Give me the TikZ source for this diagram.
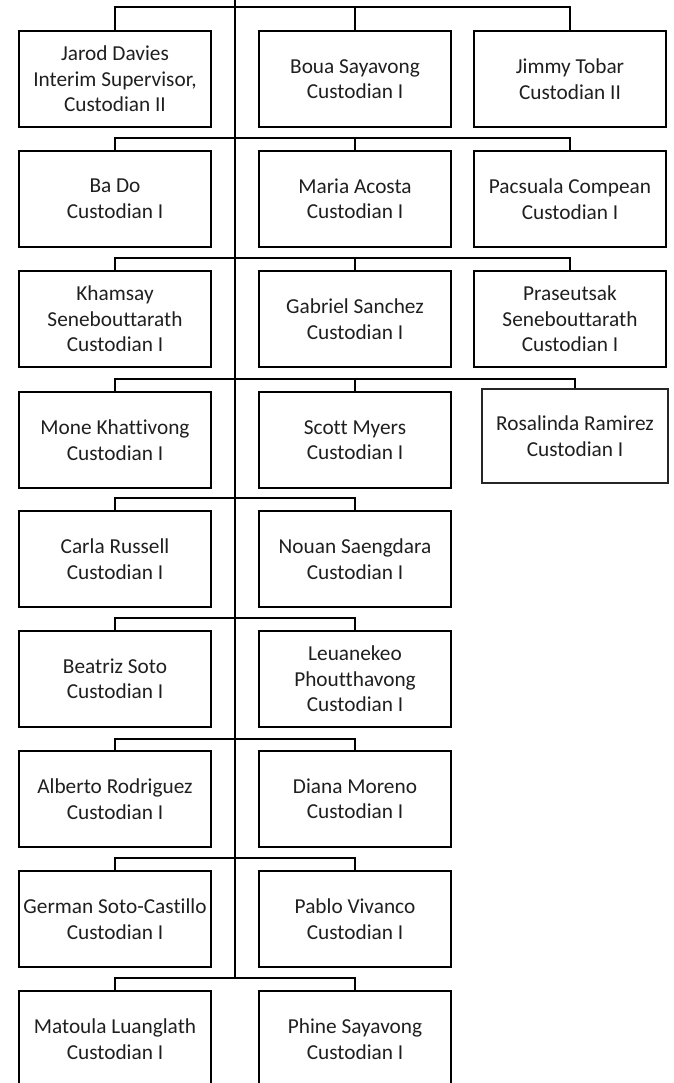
\documentclass[tikz,border=0pt]{standalone}
\usepackage{fontspec}
\setmainfont{Carlito}[Ligatures={NoCommon}]
\begin{document}
\begin{tikzpicture}[x=1pt,y=1pt,
  box/.style={draw, line width=2pt, minimum width=192pt, minimum height=96pt, align=center, inner sep=0pt, text=black!88, font=\fontsize{21.3}{25.5}\selectfont},
  thinbox/.style={box, line width=1.3pt, draw=black!85, minimum width=186pt, minimum height=94pt},
  conn/.style={line width=2pt}]
\useasboundingbox (0,0) rectangle (673,1083);
% row 1
\node[box] (L1) at (115,1004) {Jarod Davies\\Interim Supervisor,\\Custodian II};
\node[box] (M1) at (355,1004) {Boua Sayavong\\Custodian I};
\node[box] (R1) at (570,1004) {Jimmy Tobar\\Custodian II};
% row 2
\node[box] (L2) at (115,884) {Ba Do\\Custodian I};
\node[box] (M2) at (355,884) {Maria Acosta\\Custodian I};
\node[box] (R2) at (570,884) {Pacsuala Compean\\Custodian I};
% row 3
\node[box] (L3) at (115,764) {Khamsay\\Senebouttarath\\Custodian I};
\node[box] (M3) at (355,764) {Gabriel Sanchez\\Custodian I};
\node[box] (R3) at (570,764) {Praseutsak\\Senebouttarath\\Custodian I};
% row 4
\node[box] (L4) at (115,643) {Mone Khattivong\\Custodian I};
\node[box] (M4) at (355,643) {Scott Myers\\Custodian I};
\node[thinbox] (R4) at (575,647) {Rosalinda Ramirez\\Custodian I};
% row 5
\node[box] (L5) at (115,524) {Carla Russell\\Custodian I};
\node[box] (M5) at (355,524) {Nouan Saengdara\\Custodian I};
% row 6
\node[box] (L6) at (115,404) {Beatriz Soto\\Custodian I};
\node[box] (M6) at (355,404) {Leuanekeo\\Phoutthavong\\Custodian I};
% row 7
\node[box] (L7) at (115,284) {Alberto Rodriguez\\Custodian I};
\node[box] (M7) at (355,284) {Diana Moreno\\Custodian I};
% row 8
\node[box] (L8) at (115,164) {German Soto-Castillo\\Custodian I};
\node[box] (M8) at (355,164) {Pablo Vivanco\\Custodian I};
% row 9
\node[box] (L9) at (115,44) {Matoula Luanglath\\Custodian I};
\node[box] (M9) at (355,44) {Phine Sayavong\\Custodian I};
% branch points on trunk
\coordinate (top) at (235,1083);
\coordinate (b1) at (235,1076);
\coordinate (b2) at (235,945);
\coordinate (b3) at (235,825);
\coordinate (b4) at (235,704);
\coordinate (b5) at (235,585);
\coordinate (b6) at (235,465);
\coordinate (b7) at (235,344);
\coordinate (b8) at (235,225);
\coordinate (b9) at (235,105);
% trunk
\draw[conn] (top) -- (b9);
% three-column rows
\foreach \i in {1,2,3,4}{
  \draw[conn] (L\i.north) |- (b\i) -| (R\i.north);
  \draw[conn] (b\i -| M\i.north) -- (M\i.north);
}
% two-column rows
\foreach \i in {5,6,7,8,9}{
  \draw[conn] (L\i.north) |- (b\i) -| (M\i.north);
}
\end{tikzpicture}
\end{document}
